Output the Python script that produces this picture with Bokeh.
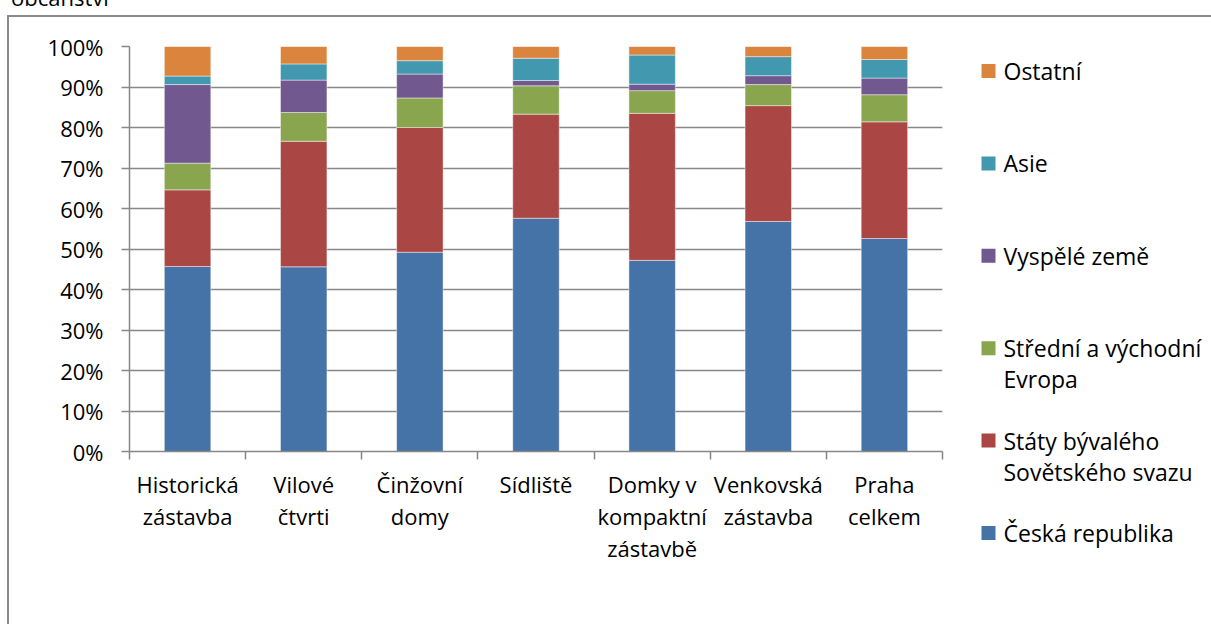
from bokeh.plotting import figure
from bokeh.models import Range1d, FixedTicker, CustomJSTickFormatter, ColumnDataSource, PrintfTickFormatter, Div
from bokeh.embed import file_html
from bokeh.resources import INLINE
from bokeh.core.properties import value

# ---------------- data ----------------
title_tail = "občanství"
categories = ["Historická\nzástavba", "Vilové\nčtvrti", "Činžovní\ndomy", "Sídliště",
              "Domky v\nkompaktní\nzástavbě", "Venkovská\nzástavba", "Praha\ncelkem"]
series_names = ["Česká republika", "Státy bývalého\nSovětského svazu", "Střední a východní\nEvropa",
                "Vyspělé země", "Asie", "Ostatní"]
ceska_republika = [45.7, 45.6, 49.2, 57.6, 47.2, 56.8, 52.6]
staty_sssr = [18.9, 31.0, 30.8, 25.7, 36.3, 28.6, 28.8]
stredni_vychodni_evropa = [6.6, 7.1, 7.3, 7.0, 5.6, 5.2, 6.7]
vyspele_zeme = [19.4, 8.0, 5.9, 1.3, 1.6, 2.2, 4.1]
asie = [2.1, 4.0, 3.3, 5.5, 7.2, 4.7, 4.6]
ostatni = [7.3, 4.3, 3.5, 2.9, 2.1, 2.5, 3.2]
series_colors = ["#4572A7", "#AA4643", "#89A54E", "#71588F", "#4198AF", "#DB843D"]
y_ticks = [0, 10, 20, 30, 40, 50, 60, 70, 80, 90, 100]

FONT = "Open Sans"
FSIZE = "22px"
LEG_FSIZE = "23px"
GRID = "#878787"
BORDER = "#8c8c8c"

series_values = [ceska_republika, staty_sssr, stredni_vychodni_evropa, vyspele_zeme, asie, ostatni]
keys = ["s%d" % i for i in range(len(series_values))]
positions = [i + 0.5 for i in range(len(categories))]
src_data = {"x": positions}
for k, v in zip(keys, series_values):
    src_data[k] = v
src = ColumnDataSource(src_data)

# ---------------- main chart ----------------
MAIN_LEFT, MAIN_TOP = 9, 17
MAIN_W, H = 957, 607
p = figure(width=MAIN_W, height=H, x_range=Range1d(0, len(categories)), y_range=Range1d(0, 100),
           output_backend="svg", toolbar_location=None,
           min_border_left=120, min_border_right=24, min_border_top=29, min_border_bottom=173,
           outline_line_color=None, background_fill_color="white", border_fill_color="white",
           styles={"position": "absolute", "left": "%dpx" % MAIN_LEFT, "top": "%dpx" % MAIN_TOP,
                   "box-shadow": "-2px 0 0 0 %s, 0 -2px 0 0 %s, -2px -2px 0 0 %s" % (BORDER, BORDER, BORDER)})

p.vbar_stack(keys, x="x", width=0.4, source=src, fill_color=series_colors,
             line_color="white", line_alpha=0.45, line_width=1)

p.xgrid.visible = False
p.ygrid.ticker = FixedTicker(ticks=y_ticks)
p.ygrid.grid_line_color = GRID
p.ygrid.grid_line_width = 1.5

yax = p.yaxis[0]
yax.ticker = FixedTicker(ticks=y_ticks)
yax.formatter = PrintfTickFormatter(format="%d%%")
yax.major_tick_out = 8
yax.major_tick_in = 0
yax.minor_tick_line_color = None
yax.axis_line_color = GRID
yax.axis_line_width = 1.5
yax.major_tick_line_color = GRID
yax.major_tick_line_width = 1.5
yax.major_label_text_font = FONT
yax.major_label_text_font_size = FSIZE
yax.major_label_text_color = "black"
yax.major_label_standoff = 18

xax = p.xaxis[0]
xax.ticker = FixedTicker(ticks=positions, minor_ticks=list(range(len(categories) + 1)))
xax.formatter = CustomJSTickFormatter(args=dict(labels=categories),
                                      code="return labels[Math.round(tick - 0.5)]")
xax.major_tick_out = 0
xax.major_tick_in = 0
xax.major_tick_line_color = None
xax.minor_tick_out = 8
xax.minor_tick_in = 0
xax.minor_tick_line_color = GRID
xax.minor_tick_line_width = 1.5
xax.axis_line_color = GRID
xax.axis_line_width = 1.5
xax.major_label_text_font = FONT
xax.major_label_text_font_size = FSIZE
xax.major_label_text_color = "black"
xax.major_label_text_line_height = 1.08
xax.major_label_standoff = 9

# ---------------- legend (separate panel to the right) ----------------
LEG_LEFT = 964
LW = 1211 - LEG_LEFT
lg = figure(width=LW, height=H, x_range=Range1d(0, LW), y_range=Range1d(H, 0),
            output_backend="svg", toolbar_location=None, min_border=0,
            x_axis_type=None, y_axis_type=None, outline_line_color=None,
            background_fill_color="white", border_fill_color="white",
            styles={"position": "absolute", "left": "%dpx" % LEG_LEFT, "top": "%dpx" % MAIN_TOP,
                    "box-shadow": "0 -2px 0 0 %s" % BORDER})
lg.grid.visible = False

LEG_Y0 = 53.5
LEG_STEP = 92.4
LEG_SQ_X = 24
LEG_TXT_X = 39
LEG_LINE = 31
order = list(range(len(series_names)))[::-1]
sq_x, sq_y, sq_c = [], [], []
tx, ty, tt = [], [], []
for j, i in enumerate(order):
    yc = LEG_Y0 + j * LEG_STEP
    sq_x.append(LEG_SQ_X)
    sq_y.append(yc)
    sq_c.append(series_colors[i])
    for li, line in enumerate(series_names[i].split("\n")):
        tx.append(LEG_TXT_X)
        ty.append(yc + li * LEG_LINE)
        tt.append(line)
lg.rect(x=sq_x, y=sq_y, width=14, height=14, fill_color=sq_c, line_color=None)
lg.text(x=tx, y=ty, text=tt, text_font=value(FONT), text_font_size=LEG_FSIZE,
        text_baseline="middle", text_align="left", text_color="black")

# tail of the page title above the chart box (cut off by the window top, as in the reference)
ttl = Div(text=title_tail,
          styles={"position": "absolute", "left": "6px", "top": "-23px",
                  "font-family": FONT, "font-size": "22px", "line-height": "30px",
                  "color": "black", "white-space": "nowrap"})

open("out.html", "w").write(file_html([ttl, p, lg], INLINE))
